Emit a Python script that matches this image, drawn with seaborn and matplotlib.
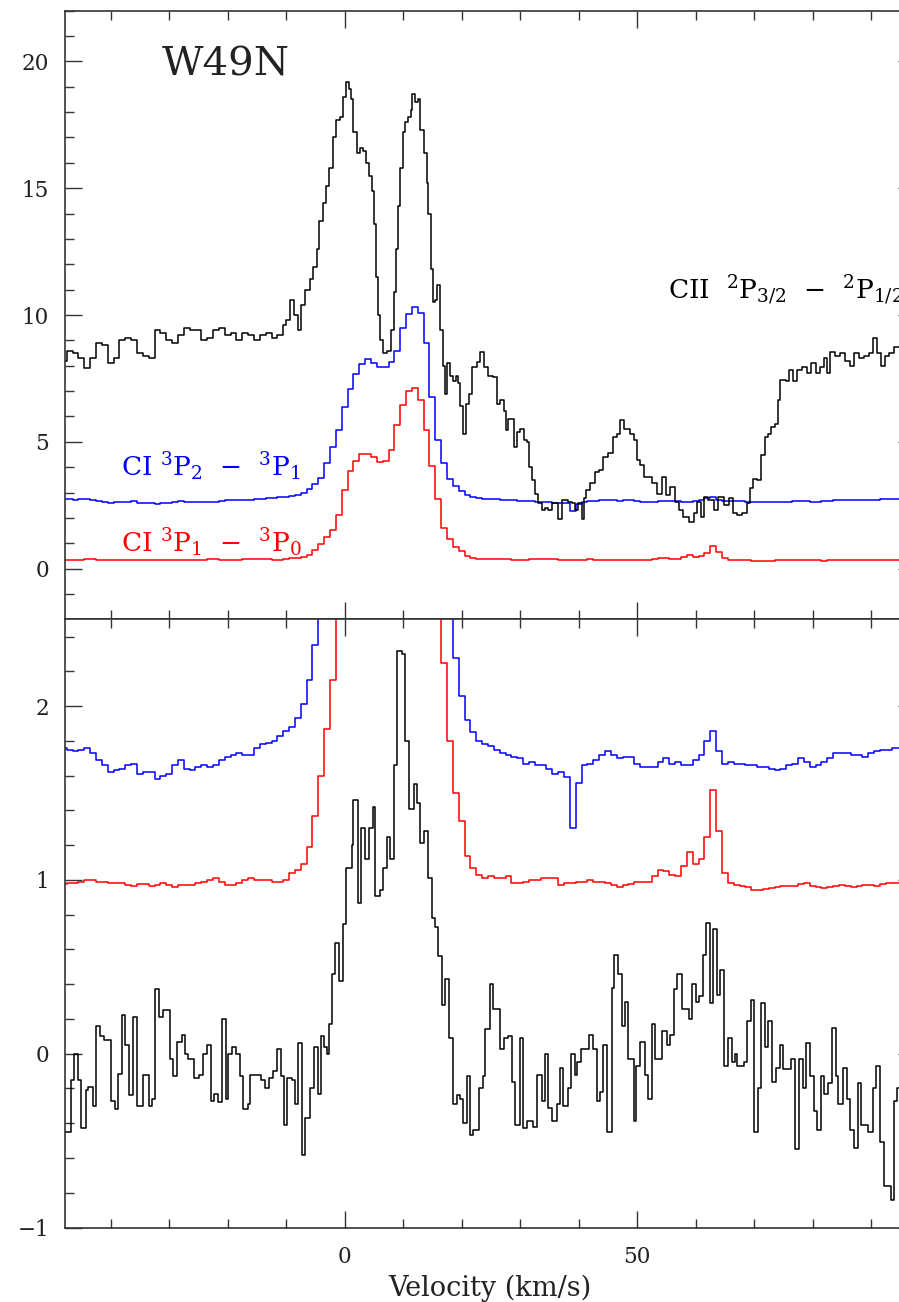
import numpy as np
import pandas as pd
import matplotlib
matplotlib.use("Agg")
import matplotlib.pyplot as plt
import seaborn as sns
from matplotlib.ticker import MultipleLocator

# [CII] 2P3/2-2P1/2, top panel (black): channel start velocity and value
cii_vel = [-48.5, -47.5, -46.5, -45.5, -44.5, -43.5, -42.5, -41.5, -40.5, -39.5,
           -38.5, -37.5, -36.5, -35.5, -34.5, -33.5, -32.5, -31.5, -30.5, -29.5,
           -28.5, -27.5, -26.5, -25.5, -24.5, -23.5, -22.5, -21.5, -20.5, -19.5,
           -18.5, -17.5, -16.5, -15.5, -14.5, -13.5, -12.5, -11.5, -10.5,
           -10.0, -9.4, -8.6, -8.0, -7.4, -6.7, -6.0, -5.4, -4.8, -4.3,
           -3.7, -3.2, -2.6, -2.0, -1.4, -0.8, -0.3, 0.2, 0.7, 1.1,
           1.5, 2.1, 2.6, 3.1, 3.6, 4.2, 4.6, 5.0, 5.4, 5.7,
           6.1, 6.5, 7.2, 7.9, 8.4, 8.7, 9.1, 9.5, 9.9, 10.4,
           10.9, 11.3, 11.6, 12.0, 12.5, 12.9, 13.5, 14.0, 14.3, 14.7,
           15.1, 15.5, 15.8, 16.3, 16.8, 17.2, 17.5, 18.0, 18.6, 19.1,
           19.4, 19.8, 20.2, 20.7, 21.2, 21.8, 22.6, 23.2, 23.8, 24.5,
           25.3, 26.0, 26.6, 27.2, 27.6, 28.0, 29.0, 29.4, 30.0, 30.6,
           31.2, 31.6, 32.0, 32.6, 33.1, 33.7, 34.3, 34.8, 35.4, 36.5,
           37.1, 38.2, 38.8, 39.4, 39.9, 40.5, 40.9, 41.3, 42.0, 42.8,
           43.4, 44.2, 45.1, 45.9, 46.5, 47.1, 47.8, 48.8, 49.4, 49.9,
           50.5, 51.1, 52.6, 53.4, 54.3, 54.9, 55.6, 56.5, 57.2, 57.9,
           58.8, 59.7, 60.3, 60.9, 61.4, 62.2, 63.1, 63.9, 64.8, 65.7,
           66.4, 67.1, 68.0, 68.7, 69.3, 69.8, 70.5, 71.2, 71.8, 72.4,
           72.9, 73.5, 74.0, 74.5, 75.4, 76.0, 76.6, 77.3, 78.1, 79.0,
           79.8, 80.5, 81.2, 81.9, 82.5, 83.0, 83.8, 84.7, 85.5, 86.4,
           87.1, 87.9, 88.7, 89.6, 90.4, 91.0, 91.7, 92.3, 93.0, 93.9,
           95.0]
cii_val = [8.2, 8.6, 8.5, 8.3, 7.9, 8.3, 8.9, 8.8, 8.1, 8.3,
           9.0, 9.1, 9.0, 8.5, 8.4, 8.3, 9.4, 9.3, 9.0, 8.9,
           9.2, 9.5, 9.4, 9.4, 9.0, 9.1, 9.4, 9.5, 9.2, 9.3,
           9.0, 9.3, 9.2, 9.0, 9.2, 9.3, 9.1, 9.2, 9.6,
           9.8, 10.6, 10.0, 9.4, 10.4, 11.0, 11.4, 11.9, 12.6, 13.7,
           14.4, 15.1, 15.8, 17.0, 17.7, 17.8, 18.6, 19.2, 18.9, 18.5,
           17.2, 16.4, 16.6, 16.45, 16.0, 15.5, 14.9, 13.6, 11.5, 10.0,
           9.0, 8.5, 8.6, 9.4, 10.9, 12.6, 14.3, 15.8, 17.2, 17.6,
           17.8, 18.1, 18.7, 18.4, 18.5, 17.3, 16.4, 15.2, 14.0, 11.8,
           10.5, 10.6, 11.2, 9.4, 8.0, 6.9, 8.1, 7.6, 7.4, 7.6,
           7.3, 6.4, 5.3, 6.5, 6.9, 7.96, 8.16, 8.55, 7.96, 7.6,
           7.56, 6.5, 6.65, 6.2, 5.46, 5.9, 4.8, 5.4, 5.5, 5.06,
           5.0, 4.0, 3.5, 2.96, 2.57, 2.3, 2.37, 2.3, 2.57, 1.97,
           2.7, 2.63, 2.57, 2.3, 2.57, 1.97, 2.8, 3.1, 3.36, 3.8,
           3.9, 4.4, 4.54, 5.2, 5.3, 5.85, 5.5, 5.3, 5.07, 4.27,
           4.1, 3.6, 3.36, 2.96, 3.6, 2.9, 3.2, 2.63, 2.3, 2.04,
           1.84, 2.2, 2.63, 2.04, 2.83, 2.7, 2.3, 2.83, 2.5, 2.8,
           2.2, 2.1, 2.2, 2.6, 3.16, 3.55, 3.5, 4.47, 5.2, 5.3,
           5.6, 5.7, 6.64, 7.43, 7.4, 7.83, 7.4, 7.83, 7.96, 7.7,
           8.1, 7.7, 7.96, 8.3, 7.7, 8.55, 8.4, 8.5, 8.2, 8.0,
           8.5, 8.3, 8.4, 8.5, 9.08, 8.5, 8.0, 8.4, 8.5, 8.75,
           8.75]

# channel velocities (km/s) of the CI spectra
vel = np.arange(-48, 96)

# CI 3P2-3P1 (blue), as in the lower panel
ci21 = [1.76, 1.75, 1.74, 1.75, 1.76, 1.73, 1.69, 1.66, 1.62, 1.63,
        1.64, 1.66, 1.67, 1.61, 1.62, 1.62, 1.58, 1.60, 1.61, 1.66,
        1.69, 1.64, 1.63, 1.65, 1.66, 1.65, 1.66, 1.69, 1.71, 1.72,
        1.73, 1.72, 1.72, 1.76, 1.78, 1.79, 1.80, 1.83, 1.86, 1.88,
        1.93, 2.01, 2.15, 2.35, 2.6, 3.2, 3.8, 4.5, 5.4, 6.1,
        6.7, 7.1, 7.3, 7.14, 6.97, 6.97, 7.17, 7.6, 8.5, 9.07,
        9.35, 9.1, 7.9, 5.8, 4.1, 3.2, 2.55, 2.28, 2.06, 1.92,
        1.85, 1.80, 1.78, 1.77, 1.75, 1.73, 1.72, 1.71, 1.70, 1.67,
        1.68, 1.66, 1.66, 1.64, 1.61, 1.62, 1.59, 1.30, 1.56, 1.66,
        1.67, 1.69, 1.72, 1.74, 1.72, 1.70, 1.71, 1.71, 1.67, 1.65,
        1.65, 1.65, 1.68, 1.70, 1.67, 1.68, 1.66, 1.66, 1.69, 1.72,
        1.80, 1.86, 1.74, 1.67, 1.68, 1.67, 1.67, 1.66, 1.66, 1.65,
        1.65, 1.64, 1.63, 1.64, 1.66, 1.67, 1.70, 1.68, 1.65, 1.66,
        1.68, 1.70, 1.73, 1.73, 1.73, 1.72, 1.72, 1.71, 1.73, 1.74,
        1.75, 1.75, 1.76, 1.76]

# CI 3P1-3P0 (red), as in the lower panel
ci10 = [0.975, 0.98, 0.98, 0.99, 1.0, 1.0, 0.99, 0.99, 0.98, 0.98,
        0.98, 0.97, 0.965, 0.975, 0.975, 0.965, 0.97, 0.98, 0.97, 0.96,
        0.97, 0.97, 0.97, 0.98, 0.99, 1.0, 1.01, 0.99, 0.97, 0.97,
        0.98, 1.0, 1.01, 1.0, 1.0, 1.0, 0.99, 0.99, 1.0, 1.04,
        1.06, 1.09, 1.19, 1.37, 1.6, 1.87, 2.15, 2.75, 3.75, 4.5,
        4.9, 5.15, 5.17, 5.05, 4.85, 4.9, 5.3, 6.3, 7.1, 7.65,
        7.75, 7.3, 6.1, 4.7, 3.4, 2.25, 1.8, 1.5, 1.34, 1.14,
        1.07, 1.03, 1.01, 1.02, 1.01, 1.01, 1.02, 0.985, 0.985, 0.99,
        1.0, 1.0, 1.01, 1.01, 1.01, 0.97, 0.98, 0.98, 0.99, 0.99,
        1.0, 0.99, 0.99, 0.985, 0.97, 0.96, 0.97, 0.975, 0.99, 0.99,
        0.99, 1.02, 1.06, 1.05, 1.03, 1.02, 1.08, 1.16, 1.09, 1.12,
        1.25, 1.52, 1.28, 1.04, 0.985, 0.97, 0.965, 0.96, 0.945, 0.94,
        0.95, 0.955, 0.96, 0.965, 0.965, 0.965, 0.975, 0.98, 0.965, 0.96,
        0.955, 0.96, 0.965, 0.97, 0.965, 0.96, 0.965, 0.97, 0.97, 0.965,
        0.975, 0.98, 0.98, 0.98]

# offsets used for the top panel
ci21_shift = 0.98
ci10_shift = -0.64

# lower panel black spectrum: channel start velocity and value
bk_vel = [-48.0, -46.8, -46.2, -45.5, -45.0, -44.2, -43.8, -43.0, -42.5, -41.8,
          -41.2, -39.9, -39.3, -38.8, -38.1, -37.5, -36.8, -36.1, -35.5, -34.4,
          -33.5, -33.0, -32.4, -31.8, -31.1, -29.8, -29.3, -28.6, -27.8, -27.3,
          -26.7, -25.7, -24.9, -24.2, -23.6, -22.9, -22.3, -21.6, -21.0, -20.3,
          -19.9, -19.2, -18.5, -17.9, -17.3, -16.6, -16.2, -15.1, -14.3, -13.6,
          -12.9, -12.2, -11.6, -10.9, -10.3, -9.8, -9.0, -8.5, -7.9, -7.3,
          -6.75, -5.9, -5.2, -4.6, -4.1, -3.5, -3.0, -2.7, -2.2, -1.6,
          -0.9, -0.2, 0.26, 1.2, 1.5, 2.36, 2.8, 3.5, 4.1, 4.8,
          5.2, 6.1, 6.6, 7.3, 7.8, 8.5, 8.9, 9.8, 10.3, 11.0,
          11.8, 12.3, 12.9, 13.5, 14.3, 14.9, 15.5, 16.0, 16.6, 17.2,
          17.9, 18.5, 19.2, 19.7, 20.2, 20.9, 21.5, 22.0, 22.9, 23.6,
          24.0, 24.9, 25.4, 26.6, 27.3, 28.0, 28.6, 29.1, 30.0, 30.5,
          31.1, 32.2, 32.9, 33.7, 34.2, 34.8, 35.4, 36.3, 36.8, 37.4,
          38.2, 38.7, 39.4, 39.8, 40.4, 41.8, 42.4, 43.1, 43.6, 44.2,
          44.8, 45.7, 46.1, 46.8, 47.4, 47.9, 48.5, 49.4, 49.8, 50.5,
          51.3, 51.9, 52.6, 53.1, 54.2, 55.1, 55.6, 56.3, 56.9, 57.6,
          58.8, 59.4, 60.0, 60.6, 61.3, 61.8, 62.5, 63.0, 63.7, 64.1,
          64.8, 65.6, 66.2, 66.8, 67.1, 68.2, 68.7, 69.5, 70.0, 70.7,
          71.2, 71.9, 72.4, 73.0, 73.8, 74.4, 75.0, 76.3, 77.0, 77.7,
          78.3, 78.9, 79.5, 80.2, 80.7, 81.4, 82.0, 82.7, 83.3, 84.0,
          84.4, 85.2, 85.8, 86.4, 87.0, 87.7, 88.2, 89.5, 90.3, 90.9,
          91.5, 92.2, 93.4, 93.9, 94.4, 95.0]
bk_val = [-0.45, -0.15, 0.0, -0.15, -0.43, -0.21, -0.19, -0.30, 0.16, 0.10,
          0.08, -0.27, -0.32, -0.115, 0.225, 0.05, -0.24, 0.21, -0.30, -0.12,
          -0.30, -0.26, 0.37, 0.21, 0.25, -0.03, -0.13, 0.07, 0.11, 0.0,
          -0.03, -0.14, -0.12, 0.0, 0.05, -0.27, -0.23, -0.28, 0.2, -0.26,
          0.0, 0.04, 0.0, -0.13, -0.32, -0.29, -0.12, -0.125, -0.15, -0.2,
          -0.14, -0.10, 0.03, -0.13, -0.41, -0.14, -0.15, -0.29, 0.06, -0.58,
          -0.37, -0.2, 0.04, -0.23, 0.1, 0.04, 0.0, 0.17, 0.46, 0.64,
          0.42, 0.745, 1.07, 1.2, 1.46, 0.87, 1.30, 1.12, 1.30, 1.42,
          0.91, 0.94, 1.07, 1.25, 1.12, 1.66, 2.32, 2.30, 1.80, 1.41,
          1.55, 1.44, 1.21, 1.28, 1.01, 0.78, 0.73, 0.56, 0.28, 0.43,
          0.09, -0.29, -0.24, -0.26, -0.40, -0.13, -0.47, -0.44, -0.2, -0.13,
          0.14, 0.40, 0.26, 0.03, 0.09, 0.10, -0.16, -0.41, 0.09, -0.43,
          -0.39, -0.42, -0.12, -0.27, 0.0, -0.31, -0.39, -0.29, -0.08, -0.3,
          -0.2, 0.0, -0.12, -0.05, 0.03, 0.11, 0.03, -0.27, -0.22, 0.05,
          -0.45, 0.38, 0.57, 0.46, 0.16, 0.3, -0.03, -0.39, -0.07, 0.07,
          -0.12, -0.26, 0.17, -0.03, 0.13, 0.05, 0.11, 0.37, 0.46, 0.26,
          0.20, 0.40, 0.30, 0.33, 0.57, 0.75, 0.29, 0.72, 0.34, 0.48,
          -0.07, 0.09, -0.05, 0.0, -0.07, -0.05, 0.19, 0.31, -0.45, -0.2,
          0.29, 0.04, 0.19, -0.16, -0.08, 0.05, -0.09, -0.03, -0.55, -0.03,
          -0.2, 0.06, -0.13, -0.33, -0.44, -0.13, -0.23, -0.17, 0.15, -0.13,
          -0.29, -0.08, -0.26, -0.44, -0.54, -0.17, -0.41, -0.45, -0.20, -0.07,
          -0.51, -0.76, -0.84, -0.27, -0.2, -0.2]

sns.set_style("ticks")
plt.rcParams["font.family"] = ["DejaVu Serif"]
plt.rcParams["mathtext.fontset"] = "dejavuserif"

cii_df = pd.DataFrame({"vel": cii_vel, "val": cii_val})
top = pd.DataFrame({"vel": vel,
                    "ci21": np.array(ci21) + ci21_shift,
                    "ci10": np.array(ci10) + ci10_shift})
bot = pd.DataFrame({"vel": vel, "ci21": ci21, "ci10": ci10})
blk = pd.DataFrame({"vel": bk_vel, "val": bk_val})

W, H = 899, 1302
fig = plt.figure(figsize=(W / 100, H / 100), dpi=100)
left, right = 65, 915
ax_top = fig.add_axes([left / W, (H - 619.3) / H, (right - left) / W, (619.3 - 10.7) / H])
ax_bot = fig.add_axes([left / W, (H - 1227.5) / H, (right - left) / W, (1227.5 - 619.3) / H])

lw = 1.1
sns.lineplot(data=top, x="vel", y="ci21", ax=ax_top, color="#0000ff", lw=lw,
             drawstyle="steps-mid", estimator=None)
sns.lineplot(data=top, x="vel", y="ci10", ax=ax_top, color="#ff0000", lw=lw,
             drawstyle="steps-mid", estimator=None)
sns.lineplot(data=cii_df, x="vel", y="val", ax=ax_top, color="black", lw=lw,
             drawstyle="steps-post", estimator=None)

sns.lineplot(data=bot, x="vel", y="ci21", ax=ax_bot, color="#0000ff", lw=lw,
             drawstyle="steps-mid", estimator=None)
sns.lineplot(data=bot, x="vel", y="ci10", ax=ax_bot, color="#ff0000", lw=lw,
             drawstyle="steps-mid", estimator=None)
sns.lineplot(data=blk, x="vel", y="val", ax=ax_bot, color="black", lw=lw,
             drawstyle="steps-post", estimator=None)

ax_top.set_xlim(-47.8, 97.5)
ax_bot.set_xlim(-47.8, 97.5)
ax_top.set_ylim(-2, 22)
ax_bot.set_ylim(-1, 2.5)

ink = "#333333"
for ax in (ax_top, ax_bot):
    ax.set_xlabel("")
    ax.set_ylabel("")
    ax.xaxis.set_major_locator(MultipleLocator(50))
    ax.xaxis.set_minor_locator(MultipleLocator(10))
    ax.tick_params(which="both", direction="in", top=True, right=True,
                   color=ink, width=1.0, labelsize=15.5, labelcolor="#222222")
    ax.tick_params(which="major", length=12)
    ax.tick_params(which="minor", length=6.5)
    ax.tick_params(axis="y", pad=11.5)
    ax.tick_params(axis="x", pad=13)
    for s in ax.spines.values():
        s.set_color(ink)
        s.set_linewidth(1.2)

ax_top.yaxis.set_major_locator(MultipleLocator(5))
ax_top.yaxis.set_minor_locator(MultipleLocator(1))
ax_top.tick_params(axis="x", labelbottom=False)
ax_bot.yaxis.set_major_locator(MultipleLocator(1))
ax_bot.yaxis.set_minor_locator(MultipleLocator(0.2))

ax_bot.set_xlabel("Velocity (km/s)", fontsize=19.5, color="#222222", labelpad=5)

ax_top.text(-31.3, 19.43, "W49N", fontsize=29, color="#222222", va="baseline")
# the reference crops this label at the right edge of the figure
ax_top.text(55.3, 10.63, "CII  $^{2}$P$_{3/2}$  \u2212  $^{2}$P$_{1/2}$",
            fontsize=19, color="black", va="baseline")
ax_top.text(-38.2, 3.64, "CI $^{3}$P$_{2}$  \u2212  $^{3}$P$_{1}$",
            fontsize=19, color="#0000ff", va="baseline")
ax_top.text(-38.2, 0.64, "CI $^{3}$P$_{1}$  \u2212  $^{3}$P$_{0}$",
            fontsize=19, color="#ff0000", va="baseline")

fig.savefig("out.png", dpi=100)
